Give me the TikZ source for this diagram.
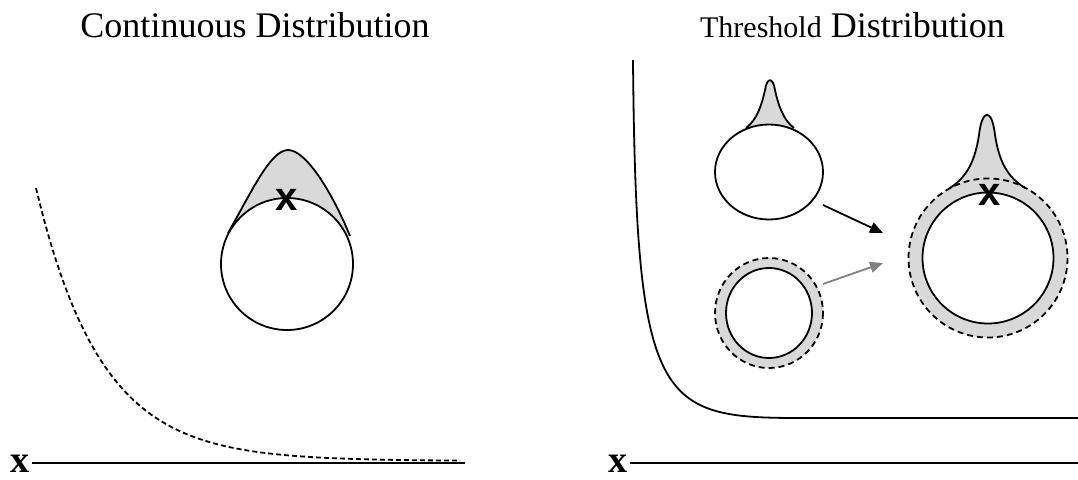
\documentclass[tikz,border=0pt]{standalone}
\usepackage{fontspec}
\setmainfont{Liberation Serif}
\newfontfamily\marksans{Liberation Sans}
\usetikzlibrary{arrows.meta, positioning}
\definecolor{shadeGray}{RGB}{217,217,217}
\definecolor{arrowGray}{RGB}{128,128,128}

\begin{document}
\begin{tikzpicture}[x=1pt, y=-1pt,
  panelTitle/.style={font=\fontsize{36}{40}\selectfont, inner sep=0pt},
  axisLabel/.style={font=\fontsize{38}{40}\selectfont\bfseries, inner sep=0pt, outer sep=2pt},
  axisLine/.style={line width=2.2pt},
  outline/.style={line width=1.8pt},
  ringEdge/.style={line width=1.8pt, dash pattern=on 6pt off 4pt},
  decayLine/.style={line width=1.8pt, dash pattern=on 5pt off 3pt},
  xmark/.style={font=\marksans\fontsize{40}{40}\selectfont\bfseries, inner sep=0pt},
  arrow/.style={-{Triangle[length=13pt,width=11pt]}, line width=1.8pt}
]
  \useasboundingbox (0,0) rectangle (1078,479);

  % titles
  \node[panelTitle, anchor=base] (contTitle) at (255,37) {Continuous Distribution};
  \node[panelTitle, anchor=base east] (thrTitle) at (1005,37)
    {{\fontsize{30}{32}\selectfont Threshold} Distribution};

  % left panel: axis and decaying curve
  \node[axisLabel, anchor=base] (xLeft) at (20,472) {x};
  \coordinate (xLeftEnd) at (465,0);
  \draw[axisLine] (xLeft.east) -- (xLeft.east -| xLeftEnd);
  \draw[decayLine] plot[domain=36:460, samples=80, smooth] (\x,{461-273*exp(-(\x-36)/65)});

  % left panel: circle with broad cap
  \coordinate (contCentre) at (287,264);
  \fill[shadeGray] (228,233) .. controls (250,195) and (270,150) .. (288,150)
    .. controls (306,150) and (332,192) .. (350,236) -- (contCentre) -- cycle;
  \draw[outline, fill=white] (contCentre) circle[radius=66];
  \draw[outline] (228,233) .. controls (250,195) and (270,150) .. (288,150)
    .. controls (306,150) and (332,192) .. (350,236);
  \node[xmark] (contX) at (287,200) {x};

  % right panel: axis and threshold curve
  \node[axisLabel, anchor=base] (xRight) at (618,472) {x};
  \coordinate (xRightEnd) at (1078,0);
  \draw[axisLine] (xRight.east) -- (xRight.east -| xRightEnd);
  \coordinate (thrTop) at (633,60);
  \coordinate (thrEnd) at (1078,418);
  \draw[outline] (thrTop) .. controls (636,405) and (658,418) .. (800,418) -- (thrEnd);

  % right panel: ellipse with narrow spike
  \coordinate (dropCentre) at (769,172);
  \fill[shadeGray] (746,128) .. controls (757,120) and (762,104) .. (765,90)
    .. controls (767,77) and (773,77) .. (775,90)
    .. controls (778,104) and (783,120) .. (794,128) -- (dropCentre) -- cycle;
  \draw[outline, fill=white] (dropCentre) ellipse[x radius=54, y radius=47.5];
  \draw[outline] (746,128) .. controls (757,120) and (762,104) .. (765,90)
    .. controls (767,77) and (773,77) .. (775,90)
    .. controls (778,104) and (783,120) .. (794,128);

  % right panel: ringed circle
  \coordinate (ringCentre) at (769,313);
  \draw[ringEdge, fill=shadeGray] (ringCentre) ellipse[x radius=54, y radius=55];
  \draw[outline, fill=white] (ringCentre) ellipse[x radius=43, y radius=45];

  % right panel: arrows
  \coordinate (blackFrom) at (823,205);
  \coordinate (blackTo) at (883,233);
  \coordinate (grayFrom) at (823,284);
  \coordinate (grayTo) at (883,263);
  \draw[arrow] (blackFrom) -- (blackTo);
  \draw[arrow, arrowGray] (grayFrom) -- (grayTo);

  % right panel: combined result
  \coordinate (bigCentre) at (988,258);
  \fill[shadeGray] (950,188) .. controls (968,176) and (975,160) .. (979,135)
    .. controls (982,108) and (992,108) .. (995,135)
    .. controls (999,160) and (1006,176) .. (1025,188) -- (bigCentre) -- cycle;
  \fill[shadeGray] (bigCentre) circle[radius=79.5];
  \draw[ringEdge] (bigCentre) circle[radius=79.5];
  \draw[outline, fill=white] (bigCentre) circle[radius=65.5];
  \draw[outline] (950,188) .. controls (968,176) and (975,160) .. (979,135)
    .. controls (982,108) and (992,108) .. (995,135)
    .. controls (999,160) and (1006,176) .. (1025,188);
  \node[xmark] (bigX) at (990,195) {x};
\end{tikzpicture}
\end{document}
